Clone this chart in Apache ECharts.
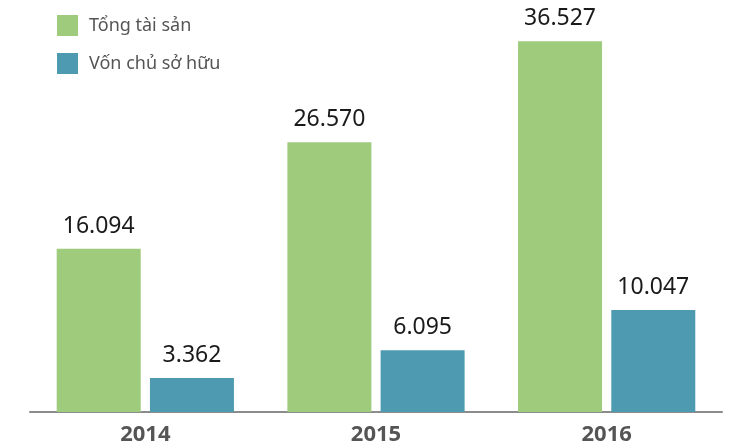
<!DOCTYPE html>
<html>
<head>
<meta charset="utf-8">
<script src="https://cdn.jsdelivr.net/npm/echarts@6/dist/echarts.min.js"></script>
<style>
  html, body { margin: 0; padding: 0; background: #ffffff; }
  #chart { width: 742px; height: 448px; }
</style>
</head>
<body>
<div id="chart"></div>
<script>
// Years on the category axis
const years = ['2014', '2015', '2016'];
// Total assets and owner's equity (units as printed on the labels)
const tongTaiSan = [16094, 26570, 36527];
const vonChuSoHuu = [3362, 6095, 10047];
const seriesNames = ['Tổng tài sản', 'Vốn chủ sở hữu'];

// Thousands separator written as a dot
function fmt(v) {
  return String(v).replace(/\B(?=(\d{3})+(?!\d))/g, '.');
}

const chart = echarts.init(document.getElementById('chart'));
const fontFamily = '"Noto Sans", "Open Sans", sans-serif';

const labelStyle = {
  show: true,
  position: 'top',
  distance: 11,
  color: '#1a1a1a',
  fontSize: 23,
  fontFamily: fontFamily,
  formatter: p => fmt(p.value)
};

chart.setOption({
  animation: false,
  backgroundColor: '#ffffff',
  grid: { left: 30, right: 20, top: 6, bottom: 36 },
  legend: {
    orient: 'vertical',
    left: 57,
    top: 15,
    padding: 0,
    itemWidth: 21,
    itemHeight: 21,
    itemGap: 17,
    icon: 'rect',
    textStyle: { color: '#555555', fontSize: 18, fontFamily: fontFamily, padding: [0, 0, 0, 6] },
    data: seriesNames
  },
  xAxis: {
    type: 'category',
    data: years,
    axisLine: { lineStyle: { color: '#8c8c8c', width: 2 } },
    axisTick: { show: false },
    axisLabel: { color: '#555555', fontSize: 22, fontWeight: 'bold', fontFamily: fontFamily, margin: 12 }
  },
  yAxis: {
    type: 'value',
    min: 0,
    max: 40000,
    show: false,
    splitLine: { show: false }
  },
  series: [
    {
      name: seriesNames[0],
      type: 'bar',
      data: tongTaiSan,
      barWidth: 84,
      barGap: '11%',
      itemStyle: { color: '#9ecb7c' },
      label: labelStyle
    },
    {
      name: seriesNames[1],
      type: 'bar',
      data: vonChuSoHuu,
      barWidth: 84,
      itemStyle: { color: '#4e9bb1' },
      label: labelStyle
    }
  ]
});
</script>
</body>
</html>
